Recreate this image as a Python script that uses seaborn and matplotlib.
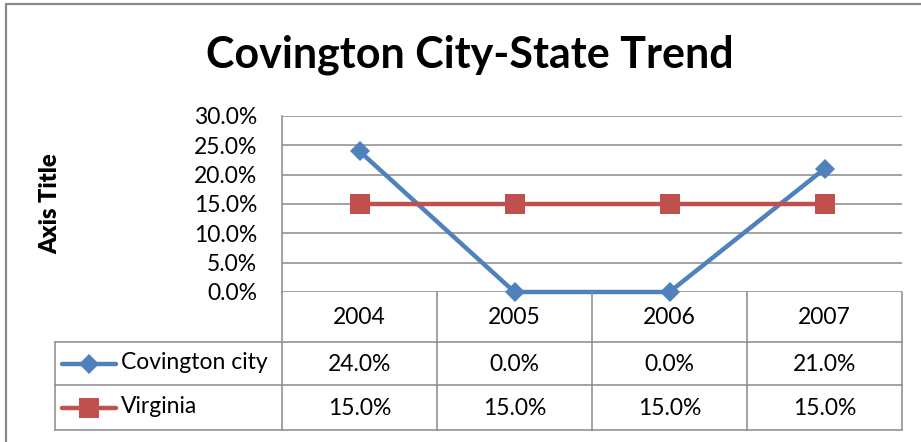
import matplotlib
matplotlib.use("Agg")
import matplotlib.pyplot as plt
import matplotlib.transforms as mtransforms
from matplotlib.lines import Line2D
import seaborn as sns
import pandas as pd

# ---- data ----
years = ["2004", "2005", "2006", "2007"]
covington = [24.0, 0.0, 0.0, 21.0]
virginia = [15.0, 15.0, 15.0, 15.0]
series_names = ["Covington city", "Virginia"]
series_colors = ["#4F81BD", "#C0504D"]
series_markers = ["D", "s"]
y_ticks = [0, 5, 10, 15, 20, 25, 30]

rows = []
for name, vals in zip(series_names, [covington, virginia]):
    for i, (yr, v) in enumerate(zip(years, vals)):
        rows.append({"pos": i, "year": yr, "series": name, "value": v})
df = pd.DataFrame(rows)

sns.set_theme(style="white")
plt.rcParams["font.family"] = ["Lato", "DejaVu Sans"]

W, H = 921, 442
fig = plt.figure(figsize=(W / 100, H / 100), dpi=100)
fig.patch.set_facecolor("white")
pix = mtransforms.Affine2D().scale(1 / W, -1 / H).translate(0, 1) + fig.transFigure


def rect(x0, y0, x1, y1):
    return [x0 / W, 1 - y1 / H, (x1 - x0) / W, (y1 - y0) / H]


grid_c = "#898989"
text_c = "#000000"
fs = 16.5
marker_sizes = {"D": 10.5, "s": 14}

# chart frame
fig.add_artist(Line2D([6, 6], [4, H], transform=pix, color=grid_c, lw=1.6))
fig.add_artist(Line2D([6, W], [4, 4], transform=pix, color=grid_c, lw=1.6))

ax = fig.add_axes(rect(282, 116, 902, 292))

sns.lineplot(
    data=df, x="pos", y="value", hue="series", style="series",
    palette=dict(zip(series_names, series_colors)),
    markers=dict(zip(series_names, series_markers)), dashes=False,
    linewidth=3.2, markersize=10, markeredgewidth=0,
    legend=False, ax=ax, clip_on=False, zorder=3,
)
for line in ax.get_lines():
    if line.get_marker() in marker_sizes:
        line.set_markersize(marker_sizes[line.get_marker()])

ax.set_xlim(-0.5, len(years) - 0.5)
ax.set_ylim(0, 30)
ax.set_yticks(y_ticks)
ax.set_yticklabels([f"{t:.1f}%" for t in y_ticks], fontsize=fs, color=text_c)
ax.tick_params(axis="y", length=0, pad=18)
ax.set_xticks([])
for t in y_ticks:
    ax.axhline(t, color=grid_c, lw=1.1, zorder=0)
for s in ["top", "right", "bottom"]:
    ax.spines[s].set_visible(False)
ax.spines["left"].set_color(grid_c)
ax.spines["left"].set_linewidth(1.1)

ax.set_xlabel("")
ax.set_ylabel("Axis Title", fontsize=17, fontweight="heavy", color=text_c)
ax.yaxis.set_label_coords((61 - 282) / 620, 0.5)

fig.text(470 / W, 1 - 55 / H, "Covington City-State Trend", ha="center", va="center",
         fontsize=31, fontweight="bold", color=text_c)

# ---- data table ----
row_edges = [292, 342, 385, 430]
col_edges = [282 + 155 * k for k in range(len(years) + 1)]
left = 55
for y in row_edges[1:]:
    fig.add_artist(Line2D([left, col_edges[-1]], [y, y], transform=pix, color=grid_c, lw=1.1))
fig.add_artist(Line2D([left, left], [row_edges[1], row_edges[-1]], transform=pix, color=grid_c, lw=1.1))
for x in col_edges:
    fig.add_artist(Line2D([x, x], [row_edges[0], row_edges[-1]], transform=pix, color=grid_c, lw=1.1))

cell = mtransforms.blended_transform_factory(ax.transData, pix)
for i, yr in enumerate(years):
    fig.text(i, (row_edges[0] + row_edges[1]) / 2 + 1, yr, transform=cell,
             ha="center", va="center", fontsize=fs, color=text_c)
for r, (name, vals, c, m) in enumerate(zip(series_names, [covington, virginia],
                                            series_colors, series_markers)):
    yc = (row_edges[r + 1] + row_edges[r + 2]) / 2
    for i, v in enumerate(vals):
        fig.text(i, yc + 1, f"{v:.1f}%", transform=cell, ha="center", va="center",
                 fontsize=fs, color=text_c)
    fig.add_artist(Line2D([62, 116], [yc, yc], transform=pix, color=c, lw=3.2,
                          solid_capstyle="round"))
    fig.add_artist(Line2D([89], [yc], transform=pix, color=c, marker=m,
                          markersize=marker_sizes[m], markeredgewidth=0))
    fig.text(121 / W, 1 - (yc - 1) / H, name, ha="left", va="center",
             fontsize=fs, color=text_c)

fig.savefig("out.png", dpi=100, facecolor="white")
